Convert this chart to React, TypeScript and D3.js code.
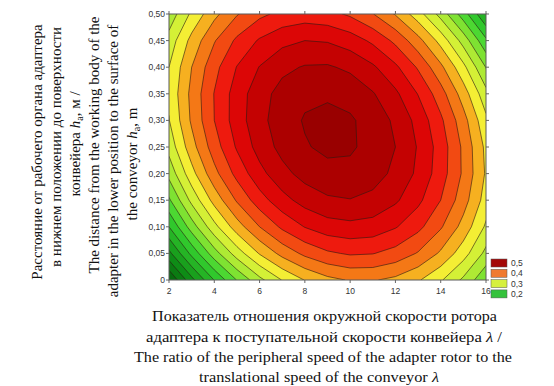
import * as d3 from 'd3'

// λ values along the x axis (columns of the grid)
const ratio = [2, 3, 4, 5, 6, 7, 8, 9, 10, 11, 12, 13, 14, 15, 16]
// h_a values along the y axis (rows of the grid)
const distance = [0, 0.05, 0.1, 0.15, 0.2, 0.25, 0.3, 0.35, 0.4, 0.45, 0.5]

// response, one row per distance
const row000 = [0.050, 0.117, 0.176, 0.226, 0.268, 0.301, 0.326, 0.343, 0.352, 0.352, 0.344, 0.328, 0.303, 0.270, 0.229]
const row005 = [0.118, 0.182, 0.239, 0.287, 0.327, 0.358, 0.381, 0.396, 0.403, 0.401, 0.391, 0.373, 0.346, 0.311, 0.268]
const row010 = [0.175, 0.237, 0.292, 0.338, 0.375, 0.405, 0.426, 0.439, 0.443, 0.440, 0.427, 0.407, 0.378, 0.341, 0.296]
const row015 = [0.221, 0.282, 0.334, 0.378, 0.414, 0.441, 0.460, 0.471, 0.474, 0.468, 0.454, 0.431, 0.400, 0.361, 0.314]
const row020 = [0.258, 0.316, 0.367, 0.408, 0.442, 0.467, 0.484, 0.493, 0.494, 0.486, 0.469, 0.445, 0.412, 0.371, 0.322]
const row025 = [0.284, 0.340, 0.388, 0.428, 0.460, 0.483, 0.498, 0.505, 0.503, 0.493, 0.475, 0.448, 0.414, 0.370, 0.319]
const row030 = [0.299, 0.354, 0.400, 0.438, 0.467, 0.489, 0.502, 0.506, 0.503, 0.491, 0.470, 0.442, 0.405, 0.360, 0.306]
const row035 = [0.305, 0.357, 0.401, 0.437, 0.465, 0.484, 0.495, 0.497, 0.492, 0.477, 0.455, 0.424, 0.386, 0.338, 0.283]
const row040 = [0.300, 0.350, 0.392, 0.426, 0.451, 0.469, 0.477, 0.478, 0.470, 0.454, 0.430, 0.397, 0.356, 0.307, 0.249]
const row045 = [0.285, 0.333, 0.373, 0.405, 0.428, 0.443, 0.450, 0.448, 0.438, 0.420, 0.394, 0.359, 0.316, 0.265, 0.205]
const row050 = [0.259, 0.305, 0.343, 0.373, 0.394, 0.407, 0.412, 0.408, 0.396, 0.376, 0.348, 0.311, 0.266, 0.212, 0.151]
const response = [row000, row005, row010, row015, row020, row025, row030, row035, row040, row045, row050]

const levels = [0.025, 0.05, 0.075, 0.1, 0.125, 0.15, 0.175, 0.2, 0.225, 0.25, 0.275, 0.3, 0.325, 0.35, 0.375, 0.4, 0.425, 0.45, 0.475, 0.5]
const xTicks = [2, 4, 6, 8, 10, 12, 14, 16]
const yTicks = [0, 0.05, 0.1, 0.15, 0.2, 0.25, 0.3, 0.35, 0.4, 0.45, 0.5]
const legendLevels = [0.5, 0.4, 0.3, 0.2]
const legendColors = ['#a30808', '#f07a30', '#d6f03e', '#34c23c']

const W = 554
const H = 386
const plot = { left: 169, right: 486, top: 14, bottom: 280 }

const x = d3.scaleLinear().domain([2, 16]).range([plot.left, plot.right])
const y = d3.scaleLinear().domain([0, 0.5]).range([plot.bottom, plot.top])

// colour of a band, keyed by its middle value
const bandColor = d3.scaleLinear<string>()
  .domain([0.0375, 0.1125, 0.1875, 0.2125, 0.2375, 0.2625, 0.2875, 0.3125, 0.3375, 0.3625, 0.3875, 0.4125, 0.4375, 0.4625, 0.4875, 0.5125])
  .range(['#045a0a', '#0e8c16', '#30c82c', '#4cd832', '#7ee232', '#aeea34', '#d4f036', '#f4ee34', '#f6b020', '#f47816', '#f24a12', '#ee1a0e', '#dc0606', '#c40202', '#ac0000', '#990000'])
  .clamp(true)

const serif = '"Liberation Serif", "Times New Roman", serif'
const sans = '"Liberation Sans", Arial, sans-serif'

const fmtY = (v: number) => (v === 0 ? '0' : v.toFixed(2).replace('.', ','))
const fmtLegend = (v: number) => v.toFixed(1).replace('.', ',')

const Ha = () => (
  <>
    <tspan fontStyle="italic">h</tspan>
    <tspan fontSize={10} dy={3}>a</tspan>
    <tspan dy={-3}>,</tspan>
  </>
)

// where d3.contours puts a sample: probe a 2x1 grid crossing at index 0.5
const probeOffset = () => {
  const [probe] = d3.contours().size([2, 1]).thresholds([0.5])([0, 1])
  const xs = probe.coordinates.flat(2).map(p => (p as unknown as number[])[0])
  return d3.min(xs)! - 0.5
}

const App = () => {
  const step = levels[1] - levels[0]
  const bands = d3.contours()
    .size([ratio.length, distance.length])
    .thresholds(levels)(response.flat())

  const off = probeOffset()
  // contour grid coordinates -> pixels
  const gx = d3.scaleLinear().domain([off, ratio.length - 1 + off]).range([x(ratio[0]), x(ratio[ratio.length - 1])])
  const gy = d3.scaleLinear().domain([off, distance.length - 1 + off]).range([y(distance[0]), y(distance[distance.length - 1])])
  const path = d3.geoPath(d3.geoTransform({
    point(px: number, py: number) {
      // @ts-ignore
      this.stream.point(gx(px), gy(py))
    }
  }))

  const pw = plot.right - plot.left
  const ph = plot.bottom - plot.top

  const yTitle = [
    { x: 42, cy: 152, body: <>Расстояние от рабочего органа адаптера</> },
    { x: 61, cy: 147, body: <>в нижнем положении до поверхности</> },
    { x: 80, cy: 144, body: <>конвейера <Ha /> м /</> },
    { x: 99, cy: 145, body: <>The distance from the working body of the</> },
    { x: 118, cy: 161, body: <>adapter in the lower position to the surface of</> },
    { x: 137, cy: 164, body: <>the conveyor <Ha /> m</> }
  ]

  const xTitle = [
    { cx: 324.5, y: 321, len: 345, body: <>Показатель отношения окружной скорости ротора</> },
    { cx: 324, y: 342, len: 356, body: <>адаптера к поступательной скорости конвейера <tspan fontStyle="italic">λ</tspan> /</> },
    { cx: 323, y: 362, len: 378, body: <>The ratio of the peripheral speed of the adapter rotor to the</> },
    { cx: 319, y: 382, len: 240, body: <>translational speed of the conveyor <tspan fontStyle="italic">λ</tspan></> }
  ]

  return (
    <svg
      width={W}
      height={H}
      viewBox={`0 0 ${W} ${H}`}
      style={{ position: 'absolute', left: 0, top: 0, background: '#fff' }}
    >
      <defs>
        <clipPath id="plot-clip">
          <rect x={plot.left} y={plot.top} width={pw} height={ph} />
        </clipPath>
      </defs>

      {/* filled bands, then isolines */}
      <g clipPath="url(#plot-clip)">
        <rect x={plot.left} y={plot.top} width={pw} height={ph} fill={bandColor(levels[0] - step / 2)} />
        {bands.map((c, i) => (
          <path key={`f${i}`} d={path(c as any) || ''} fill={bandColor(c.value + step / 2)} />
        ))}
        {bands.map((c, i) => (
          <path key={`l${i}`} d={path(c as any) || ''} fill="none" stroke="#2a1a12" strokeWidth={0.7} strokeOpacity={0.85} />
        ))}
      </g>

      {/* frame */}
      <rect x={plot.left} y={plot.top} width={pw} height={ph} fill="none" stroke="#5a5a5a" strokeWidth={1} />

      {/* ticks */}
      {xTicks.map(t => (
        <g key={`xt${t}`}>
          <line x1={x(t)} x2={x(t)} y1={plot.bottom} y2={plot.bottom + 3} stroke="#666" />
          <line x1={x(t)} x2={x(t)} y1={plot.top} y2={plot.top - 3} stroke="#666" />
          <text x={x(t)} y={294} textAnchor="middle" fontFamily={sans} fontSize={8.5} fill="#333">{t}</text>
        </g>
      ))}
      {yTicks.map(t => (
        <g key={`yt${t}`}>
          <line x1={plot.left} x2={plot.left - 3} y1={y(t)} y2={y(t)} stroke="#666" />
          <line x1={plot.right} x2={plot.right + 3} y1={y(t)} y2={y(t)} stroke="#666" />
          <text x={165} y={y(t) + 3} textAnchor="end" fontFamily={sans} fontSize={8.5} fill="#333">{fmtY(t)}</text>
        </g>
      ))}

      {/* legend */}
      {legendLevels.map((v, i) => (
        <g key={`lg${v}`} transform={`translate(491, ${259 + i * 10.3})`}>
          <rect width={16} height={8} fill={legendColors[i]} stroke="#555" strokeWidth={0.5} />
          <text x={20} y={7} fontFamily={sans} fontSize={8.5} fill="#333">{fmtLegend(v)}</text>
        </g>
      ))}

      {/* y title, rotated */}
      {yTitle.map((l, i) => (
        <text
          key={`yl${i}`}
          transform={`translate(${l.x}, ${l.cy}) rotate(-90)`}
          textAnchor="middle"
          fontFamily={serif}
          fontSize={15}
          fill="#111"
        >
          {l.body}
        </text>
      ))}

      {/* x title */}
      {xTitle.map((l, i) => (
        <text
          key={`xl${i}`}
          x={l.cx}
          y={l.y}
          textAnchor="middle"
          fontFamily={serif}
          fontSize={15}
          fill="#111"
          textLength={l.len}
          lengthAdjust="spacingAndGlyphs"
        >
          {l.body}
        </text>
      ))}
    </svg>
  )
}

export default App
